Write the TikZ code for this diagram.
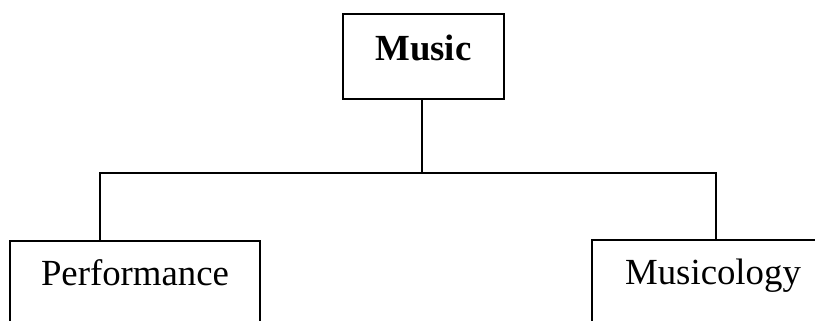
\documentclass[tikz,border=0pt]{standalone}
\usepackage{fontspec}
\setmainfont{Liberation Serif}
\begin{document}
\begin{tikzpicture}
  [x=0.75pt,y=-0.75pt,line width=1.4pt,
   every node/.style={draw=black,rectangle,font=\fontsize{27.6}{30}\selectfont,text height=18.3pt},
   top/.style={anchor=north,minimum width=120.75pt,inner ysep=16.5pt,text depth=12.5pt},
   leaf/.style={anchor=north,inner ysep=15pt,text depth=100pt}]
  \clip (0,0) rectangle (815,321);
  \node[top] (music) at (423.5,13) {\textbf{Music}};
  \node[leaf,minimum width=187.5pt] (perf) at (135,240) {Performance};
  \node[leaf,minimum width=181pt] (musicol) at (713,239) {Musicology};

  \coordinate (bar) at (422,173);
  \draw (music.south -| bar) -- (bar);
  \draw ([xshift=-26.25pt]perf.north) |- (bar) -| ([xshift=2.25pt]musicol.north);

 \end{tikzpicture}
\end{document}
